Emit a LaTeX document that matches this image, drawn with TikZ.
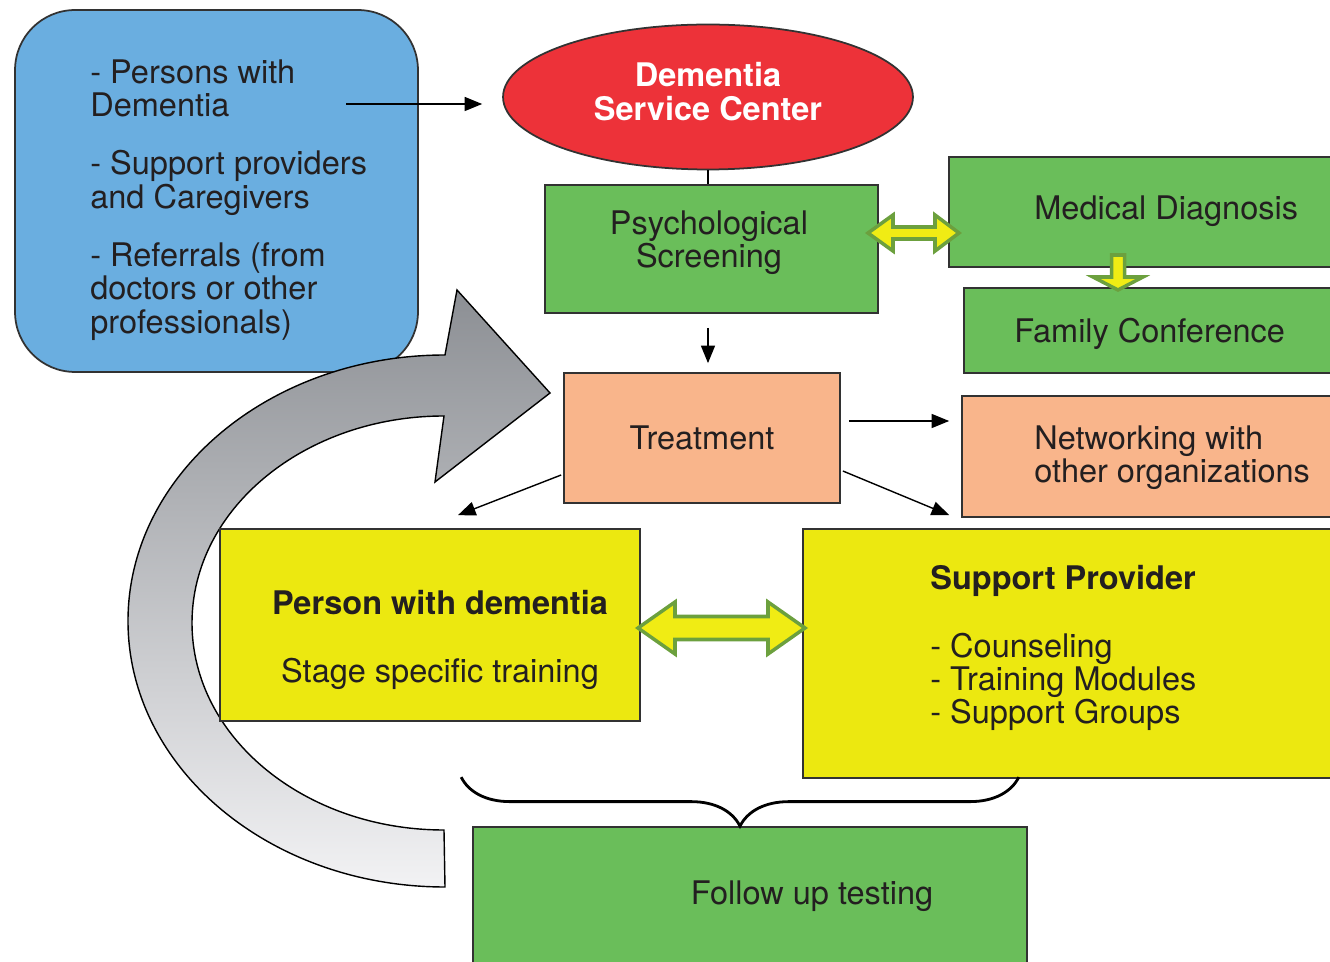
\documentclass[tikz,border=0pt]{standalone}
\usepackage{fontspec}
\setmainfont{TeX Gyre Heros}
\usetikzlibrary{calc,arrows.meta,decorations.pathreplacing,shapes.geometric}
\definecolor{cblue}{RGB}{106,174,224}
\definecolor{cred}{RGB}{237,50,57}
\definecolor{cgreen}{RGB}{106,190,90}
\definecolor{csalmon}{RGB}{249,181,139}
\definecolor{cyellow}{RGB}{236,232,16}
\definecolor{cborder}{RGB}{50,50,50}
\definecolor{ctext}{RGB}{35,31,32}
\definecolor{afill}{RGB}{240,236,20}
\definecolor{aline}{RGB}{108,160,62}
\definecolor{gdark}{RGB}{140,143,148}
\definecolor{glight}{RGB}{242,242,244}
\begin{document}
\begin{tikzpicture}[x=0.02cm,y=-0.02cm,
  box/.style={draw=cborder, line width=1pt, inner sep=0pt, rectangle},
  txt/.style={text=ctext, font=\fontsize{18.5pt}{19pt}\selectfont, inner sep=0pt},
  btxt/.style={txt, font=\fontsize{18.5pt}{19pt}\selectfont\bfseries},
  conn/.style={draw=black, line width=0.8pt, -{Triangle[length=10pt,width=8pt]}},
  blockarrow/.style={fill=afill, draw=aline, line width=2pt, line join=miter}
]
\useasboundingbox (0,0) rectangle (1330,962);
\clip (0,0) rectangle (1330,962);

% source box
\node[box, fill=cblue, rounded corners=1.2cm, minimum width=8.06cm, minimum height=7.24cm] (src) at (216.5,191) {};
\node[txt, anchor=west, align=left] (srctext) at (90,200) {- Persons with\\Dementia\\[14pt]- Support providers\\and Caregivers\\[14pt]- Referrals (from\\doctors or other\\professionals)};

% curved gray arrow
\draw[draw=black, line width=0.8pt, top color=gdark, bottom color=glight]
  (445,887) arc[start angle=90, end angle=270, x radius=317, y radius=266]
  -- (457,290) -- (550,393) -- (435,482) -- (444,416)
  arc[start angle=270, end angle=90, x radius=252, y radius=207] -- cycle;

% main nodes
\node[ellipse, draw=cborder, line width=1pt, fill=cred, inner sep=0pt, minimum width=8.2cm, minimum height=2.9cm] (dsc) at (708,97) {};
\node[text=white, font=\fontsize{18.5pt}{19.3pt}\selectfont\bfseries, align=center, inner sep=0pt] (dsctext) at (708,92) {Dementia\\Service Center};
\node[box, fill=cgreen, minimum width=6.66cm, minimum height=2.56cm] (psych) at (711.5,249) {};
\node[txt, align=center] (psychtext) at (709,242.5) {Psychological\\Screening};
\node[box, fill=cgreen, minimum width=7.92cm, minimum height=2.2cm] (med) at (1147,212) {};
\node[txt, anchor=west] (medtext) at (1034,211) {Medical Diagnosis};
\node[box, fill=cgreen, minimum width=7.62cm, minimum height=1.7cm] (fam) at (1154.5,330.5) {};
\node[txt, anchor=west] (famtext) at (1014,334) {Family Conference};
\node[box, fill=csalmon, minimum width=5.52cm, minimum height=2.6cm, txt] (treat) at (702,438) {Treatment};
\node[box, fill=csalmon, minimum width=7.66cm, minimum height=2.42cm] (net) at (1153.5,456.5) {};
\node[txt, anchor=west, align=left] (nettext) at (1034,457.5) {Networking with\\other organizations};
\node[box, fill=cyellow, minimum width=8.4cm, minimum height=3.84cm] (person) at (430,625) {};
\node[btxt] (persontitle) at (440,603) {Person with dementia};
\node[txt] (persontext) at (440,674) {Stage specific training};
\node[box, fill=cyellow, minimum width=10.84cm, minimum height=4.98cm] (support) at (1074,653.5) {};
\node[btxt, anchor=west] (suptitle) at (930,581) {Support Provider};
\node[txt, anchor=west, align=left] (suplist) at (930,682) {- Counseling\\- Training Modules\\- Support Groups};
\node[box, fill=cgreen, minimum width=11.08cm, minimum height=2.96cm] (follow) at (750,901) {};
\node[txt] (followtext) at (812,896) {Follow up testing};

% connectors
\coordinate (s1) at (346,104);
\draw[conn, shorten >=0.4cm] (s1) -- (s1 -| dsc.west);
\draw[line width=0.8pt] (dsc.south) -- (dsc.south |- psych.north);
\draw[conn, shorten <=0.28cm, shorten >=0.18cm] (psych.south -| dsc.south) -- (treat.north -| dsc.south);
\draw[conn] ($(treat.east)+(8,-17)$) -- ($(treat.east -| net.west)+(-12,-17)$);
\draw[conn] ($(treat.west)+(-2,37)$) -- ($(person.north)+(28,-13)$);
\draw[conn] ($(treat.east)+(2,33)$) -- ($(support.north west)+(147,-13)$);

% brace
\draw[line width=1.6pt, decorate, decoration={brace, mirror, amplitude=0.98cm}]
  ($(follow.north west)+(-11,-49)$) -- ($(follow.north east)+(-9,-49)$);

% block arrows
\draw[blockarrow] (868,233) -- (893,215) -- (893,227) -- (935,227) -- (935,215) -- (959,233)
  -- (935,251) -- (935,239) -- (893,239) -- (893,251) -- cycle;
\draw[blockarrow] (638,628) -- (675,602) -- (675,616.5) -- (768,616.5) -- (768,602) -- (805,628)
  -- (768,654) -- (768,639.5) -- (675,639.5) -- (675,654) -- cycle;
\draw[blockarrow] (1111.5,255) -- (1124.5,255) -- (1124.5,277) -- (1143,277) -- (1118,290)
  -- (1093,277) -- (1111.5,277) -- cycle;
\end{tikzpicture}
\end{document}
